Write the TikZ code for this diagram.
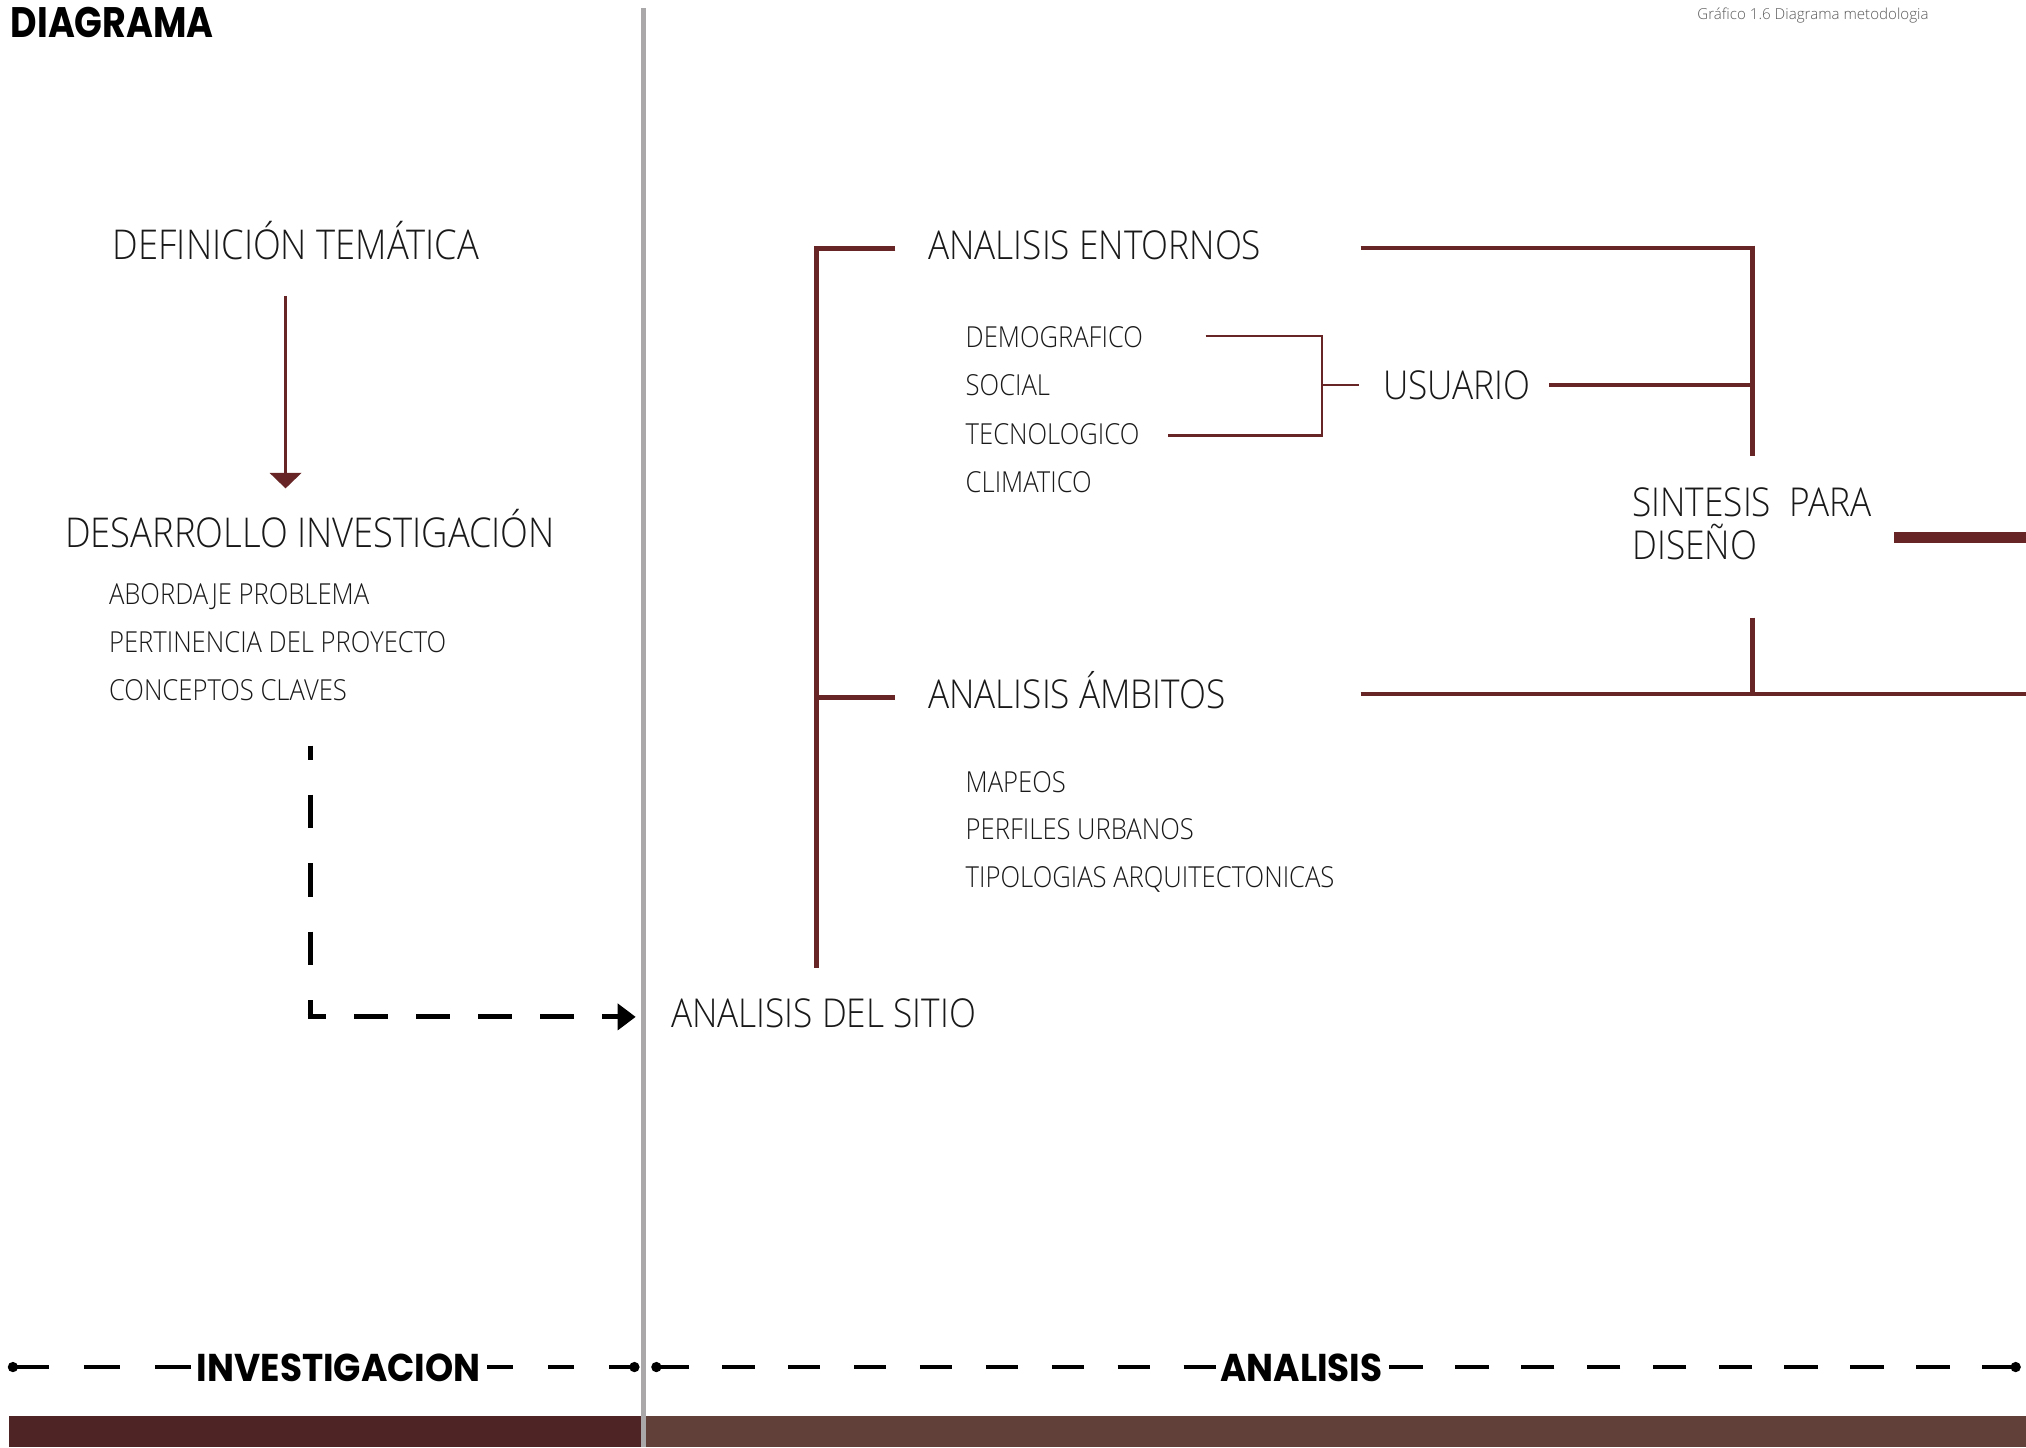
\documentclass[tikz,border=0pt]{standalone}
\usepackage{fontspec}
\usetikzlibrary{arrows.meta}
\newfontfamily\lightf{Open Sans}[UprightFont=* Light, FakeStretch=0.885]
\newfontfamily\plainlightf{Open Sans}[UprightFont=* Light]
\newfontfamily\heavyf{Poppins}[UprightFont=* Bold, FakeStretch=0.855]
\newfontfamily\heavyg{Poppins}[UprightFont=* Bold, FakeStretch=0.925]
\definecolor{wine}{RGB}{104,37,37}
\definecolor{bandA}{RGB}{78,36,36}
\definecolor{bandB}{RGB}{98,64,58}
\definecolor{grayline}{RGB}{170,168,168}
\definecolor{txt}{RGB}{25,25,25}
\definecolor{graytxt}{RGB}{90,90,90}
\begin{document}
\begin{tikzpicture}[x=0.5pt,y=-0.5pt,
  ttl/.style={font=\lightf\fontsize{15.4}{16.5}\selectfont, text=txt, inner sep=0pt, anchor=base west},
  ttlw/.style={font=\lightf\fontsize{15.9}{16.5}\selectfont, text=txt, inner sep=0pt, anchor=base west},
  sub/.style={font=\lightf\fontsize{11.2}{13}\selectfont, text=txt, inner sep=0pt, anchor=base west},
  phaselbl/.style={font=\heavyg\fontsize{15}{18}\selectfont, text=black, inner sep=0pt, anchor=base west},
  dotnode/.style={circle, fill=black, inner sep=0pt, minimum size=4pt},
  tl/.style={draw=black, line width=1.5pt},
  wthick/.style={draw=wine, line width=2pt},
  wmid/.style={draw=wine, line width=1.3pt},
  wthin/.style={draw=wine, line width=1pt}
]
\useasboundingbox (0,0) rectangle (1568,1120);
\fill[white] (0,0) rectangle (1568,1120);

% header
\node[font=\heavyf\fontsize{16.5}{18}\selectfont, anchor=base west, inner sep=0pt] (titulo) at (8,29) {DIAGRAMA};
\node[font=\plainlightf\fontsize{5.85}{7}\selectfont, text=graytxt, anchor=base east, inner sep=0pt] (grafico) at (1493,15) {Gráfico 1.6 Diagrama metodologia};

% left column
\node[ttlw] (deft) at (87,201) {DEFINICIÓN TEMÁTICA};
\node[ttlw] (desa) at (50,424) {DESARROLLO INVESTIGACIÓN};
\node[sub] (ab) at (84,468) {ABORDAJE PROBLEMA};
\node[sub] (pert) at (84,505) {PERTINENCIA DEL PROYECTO};
\node[sub] (conc) at (84,542) {CONCEPTOS CLAVES};
\node[ttl] (sitio) at (519,795) {ANALISIS DEL SITIO};

\coordinate (a1) at (221,229);
\coordinate (a2) at (221,378);
\draw[wine, line width=1.5pt, -{Triangle[length=6pt,width=12pt]}] (a1) -- (a2);

\coordinate (d0) at (240,577);
\coordinate (dc) at (240,787);
\coordinate (dc2) at (238,787);
\coordinate (d1) at (492,787);
\draw[black, line width=2pt, dash pattern=on 13pt off 13.5pt, dash phase=7.5pt] (d0) -- (dc);
\draw[black, line width=2pt, dash pattern=on 13pt off 11pt, dash phase=6pt, -{Triangle[length=7pt,width=10pt]}] (dc2) -- (d1);

% right part
\node[ttl] (ent) at (718,201) {ANALISIS ENTORNOS};
\node[sub] (demo) at (747,269) {DEMOGRAFICO};
\node[sub] (soc) at (747,306) {SOCIAL};
\node[sub] (tec) at (747,344) {TECNOLOGICO};
\node[sub] (clim) at (747,381) {CLIMATICO};
\node[ttl] (usu) at (1070,309) {USUARIO};
\node[font=\lightf\fontsize{15.4}{16.5}\selectfont, text=txt, inner sep=0pt, anchor=north west, align=left] (sint) at (1263,377) {SINTESIS\ \ PARA\\DISEÑO};
\node[ttl] (amb) at (718,548) {ANALISIS ÁMBITOS};
\node[sub] (map) at (747,613) {MAPEOS};
\node[sub] (perf) at (747,650) {PERFILES URBANOS};
\node[sub] (tip) at (747,687) {TIPOLOGIAS ARQUITECTONICAS};

% main bracket
\coordinate (bt) at (693,192);
\coordinate (bc) at (632,192);
\coordinate (bb) at (632,749);
\coordinate (bm) at (632,540);
\coordinate (bmr) at (693,540);
\draw[wthick] (bt) -- (bc) -- (bb);
\draw[wthick] (bm) -- (bmr);

% user bracket
\coordinate (u1) at (933,260);
\coordinate (u2) at (1023,260);
\coordinate (u3) at (1023,337);
\coordinate (u4) at (904,337);
\coordinate (u5) at (1023,298);
\coordinate (u6) at (1052,298);
\draw[wthin] (u1) -- (u2) -- (u3) -- (u4);
\draw[wthin] (u5) -- (u6);

% synthesis connectors
\coordinate (s1) at (1053,192);
\coordinate (s2) at (1356,192);
\coordinate (s3) at (1356,353);
\coordinate (s4) at (1199,298);
\coordinate (s5) at (1356,298);
\coordinate (s6) at (1356,478);
\coordinate (s7) at (1356,537);
\coordinate (s8) at (1053,537);
\coordinate (s9) at (1568,537);
\coordinate (s10) at (1466,416);
\coordinate (s11) at (1568,416);
\draw[wmid] (s1) -- (s2);
\draw[wthick] (1356,190) -- (s3);
\draw[wmid] (s4) -- (s5);
\draw[wthick] (s6) -- (s7);
\draw[wmid] (s8) -- (s9);
\draw[draw=wine, line width=4pt] (s10) -- (s11);

% timeline
\node[phaselbl] (inv) at (152,1069) {INVESTIGACION};
\node[phaselbl] (anal) at (944,1069) {ANALISIS};
\node[dotnode] (p0) at (10,1058) {};
\node[dotnode] (p1) at (491,1058) {};
\node[dotnode] (p2) at (508,1058) {};
\node[dotnode] (p3) at (1560,1058) {};
\draw[tl, dash pattern=on 14pt off 13.5pt] (p0.center) -- (inv.west |- p0.center);
\draw[tl, dash pattern=on 10pt off 13.5pt] (p1.center) -- (inv.east |- p1.center);
\draw[tl, dash pattern=on 12.5pt off 13pt] (p2.center) -- (anal.west |- p2.center);
\draw[tl, dash pattern=on 13pt off 12.5pt] (p3.center) -- (anal.east |- p3.center);

% bottom band
\fill[bandA] (7,1096) rectangle (497,1120);
\fill[bandB] (500,1096) rectangle (1568,1120);

% divider
\coordinate (g0) at (498,6);
\coordinate (g1) at (498,1120);
\draw[grayline, line width=2pt] (g0) -- (g1);
\end{tikzpicture}
\end{document}
